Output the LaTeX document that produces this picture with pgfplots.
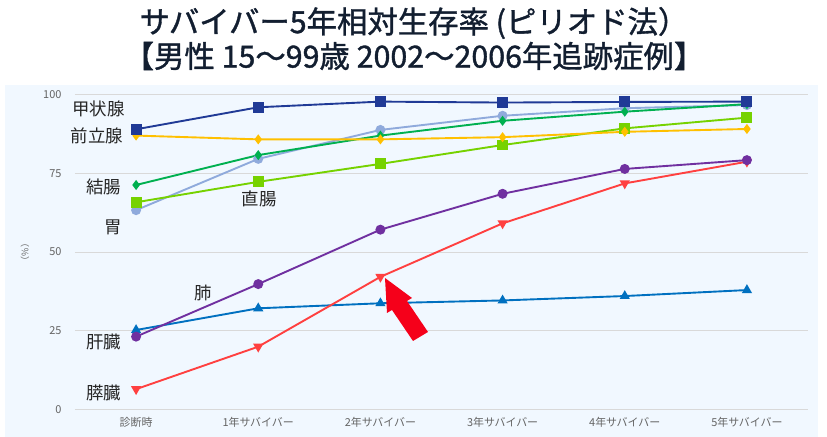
\documentclass[border=0pt]{standalone}
\usepackage{fontspec}
\setmainfont{Noto Sans CJK JP}
\newfontfamily\titlefont[FakeBold=1.2]{Noto Sans CJK JP}
\usepackage{pgfplots}
\pgfplotsset{compat=1.18}
\definecolor{bgpanel}{RGB}{241,248,255}
\definecolor{cthy}{RGB}{32,58,150}
\definecolor{cpro}{RGB}{255,192,0}
\definecolor{ccol}{RGB}{0,176,80}
\definecolor{csto}{RGB}{143,170,220}
\definecolor{crec}{RGB}{118,210,0}
\definecolor{clun}{RGB}{112,48,160}
\definecolor{cliv}{RGB}{0,112,192}
\definecolor{cpan}{RGB}{255,64,64}
\definecolor{carrow}{RGB}{245,0,26}
\definecolor{ctitle}{RGB}{18,30,48}
\definecolor{ctick}{RGB}{100,100,100}
\begin{document}
\begin{tikzpicture}[x=1bp,y=1bp]
\useasboundingbox (-75,-27.7) rectangle (752,409.3);
\fill[bgpanel] (-70,-27.7) rectangle (743,324.3);
\begin{axis}[
  at={(0,0)}, anchor=south west,
  scale only axis, width=733bp, height=314.6bp,
  xmin=-0.5, xmax=5.5, ymin=0, ymax=100,
  axis line style={draw=none},
  ymajorgrids, major grid style={draw=black!15, line width=0.8pt},
  major tick length=0pt,
  ytick={0,25,50,75,100},
  xtick={0,1,2,3,4,5},
  xticklabels={診断時,1年サバイバー,2年サバイバー,3年サバイバー,4年サバイバー,5年サバイバー},
  /pgf/number format/assume math mode=true,
  ticklabel style={font=\fontsize{11}{13}\selectfont, text=ctick},
  yticklabel style={xshift=-10bp},
  xticklabel style={yshift=-4bp},
  every axis plot/.append style={line width=1.9pt},
  clip=false,
]
\addplot[cliv, mark=triangle*, mark size=4bp] coordinates {(0,25.2) (1,32.1) (2,33.7) (3,34.6) (4,36.0) (5,37.9)};
\addplot[cpan, mark=triangle*, mark size=4bp, mark options={rotate=180}] coordinates {(0,6.4) (1,19.9) (2,42.1) (3,59.1) (4,71.8) (5,78.7)};
\addplot[clun, mark=*, mark size=4bp] coordinates {(0,23.1) (1,39.8) (2,57.1) (3,68.5) (4,76.4) (5,79.2)};
\addplot[csto, mark=*, mark size=4bp] coordinates {(0,63.3) (1,79.6) (2,88.8) (3,93.3) (4,95.7) (5,96.7)};
\addplot[ccol, mark=diamond*, mark size=3.5bp] coordinates {(0,71.3) (1,80.8) (2,87.0) (3,91.7) (4,94.6) (5,97.0)};
\addplot[crec, mark=square*, mark size=4.5bp] coordinates {(0,65.8) (1,72.3) (2,78.0) (3,84.0) (4,89.3) (5,92.7)};
\addplot[cpro, mark=diamond*, mark size=3.5bp] coordinates {(0,87.0) (1,85.8) (2,85.8) (3,86.5) (4,88.2) (5,89.1)};
\addplot[cthy, mark=square*, mark size=4.5bp] coordinates {(0,89.0) (1,96.0) (2,97.8) (3,97.5) (4,97.7) (5,97.8)};
\end{axis}
\fill[carrow] (310,131.3) -- (337,111.3) -- (332,108.3) -- (353,77.3) -- (338,68.3) -- (317,99.3) -- (312,96.3) -- cycle;
\begin{scope}[every node/.style={font=\fontsize{17.5}{20}\selectfont, text=black!85, inner sep=0pt}]
\node at (23.5,300.3) {甲状腺};
\node at (22,273.6) {前立腺};
\node at (29,222.6) {結腸};
\node at (38,181.6) {胃};
\node at (184,210.3) {直腸};
\node at (128,116.3) {肺};
\node at (28.5,67.3) {肝臓};
\node at (28.5,16) {膵臓};
\end{scope}
\node[rotate=90, text=ctick, font=\fontsize{9}{10}\selectfont] at (-50,157.3) {（\%）};
\node[font=\fontsize{30.5}{33}\titlefont, text=ctitle, inner sep=0pt] at (339,386.3) {サバイバー5年相対生存率 (ピリオド法）};
\node[font=\fontsize{30.5}{33}\titlefont, text=ctitle, inner sep=0pt] at (339,353.3) {【男性 15～99歳 2002～2006年追跡症例】};
\end{tikzpicture}
\end{document}
